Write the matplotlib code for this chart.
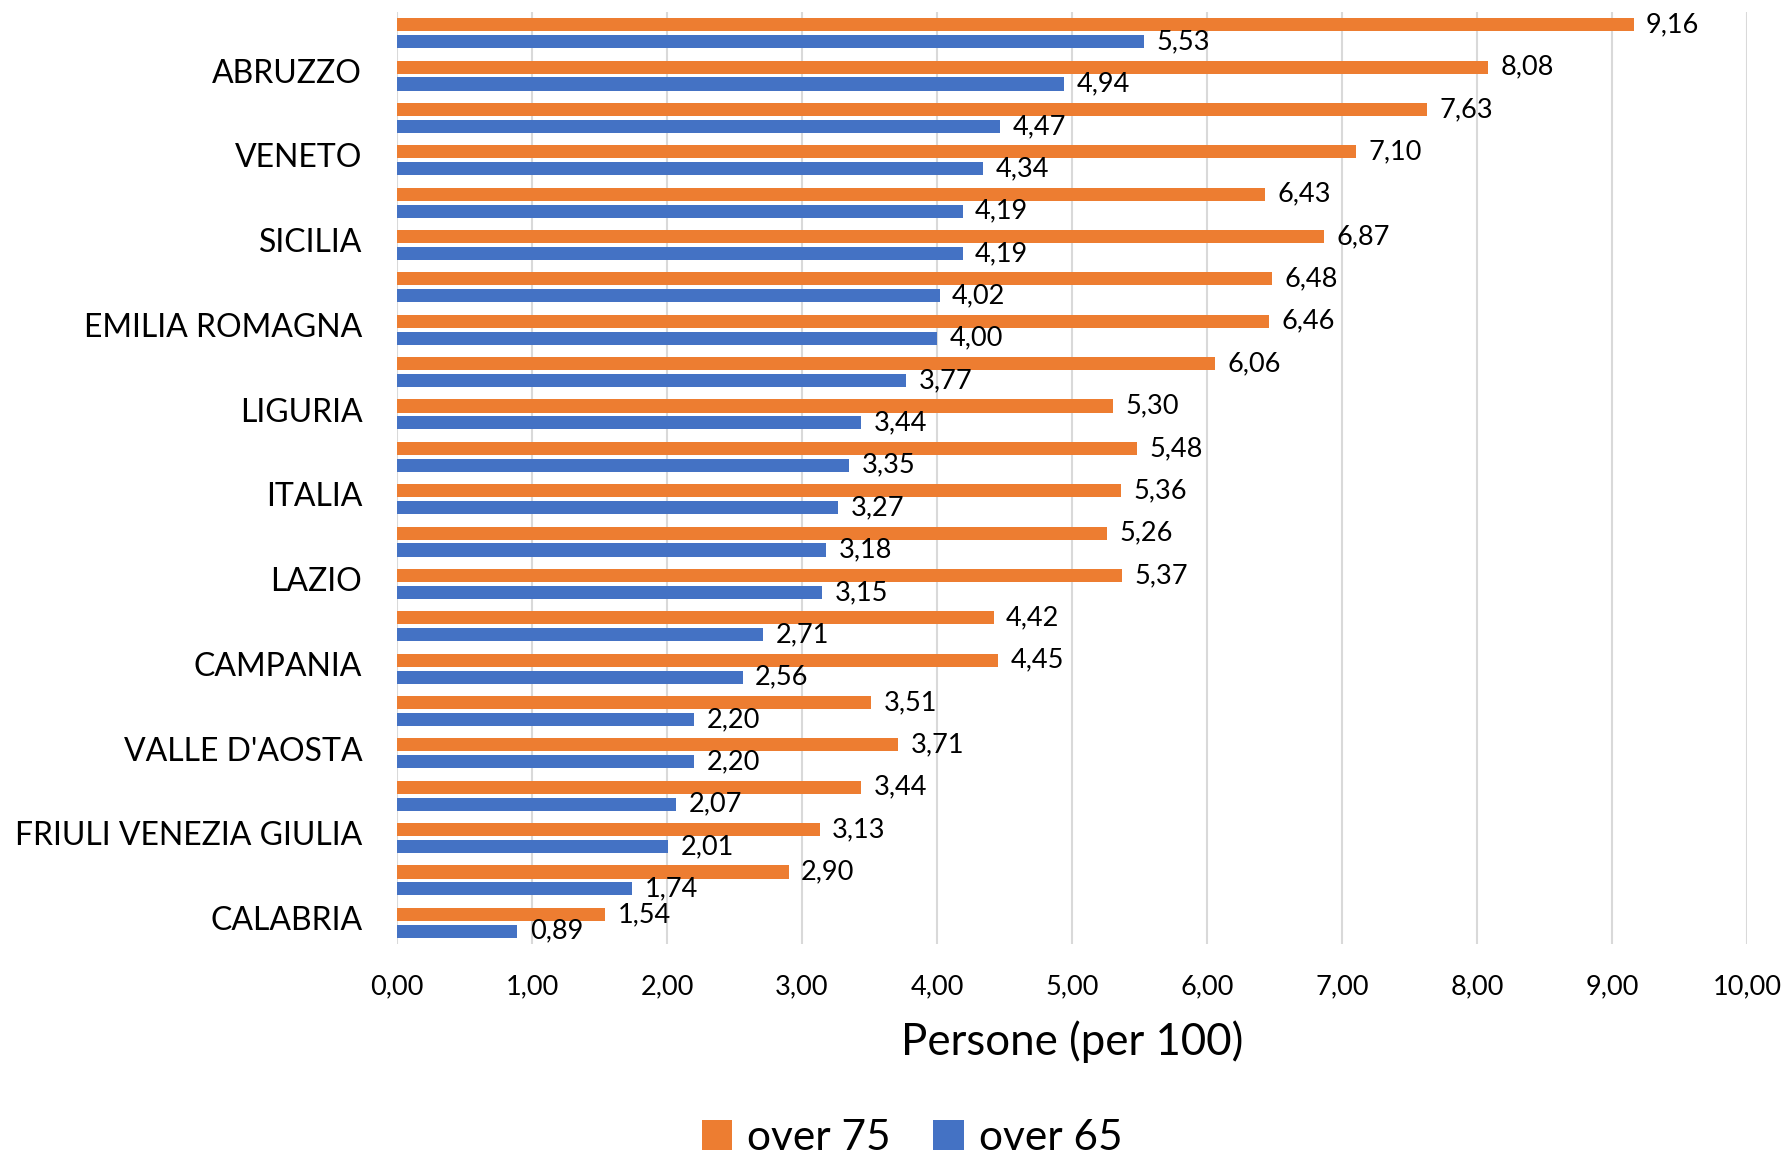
import matplotlib
matplotlib.use("Agg")
import matplotlib.pyplot as plt
import matplotlib.transforms as mtransforms
import numpy as np

# dati (persone per 100), dall'alto verso il basso
regioni = ["", "ABRUZZO", "", "VENETO", "", "SICILIA", "", "EMILIA ROMAGNA",
           "", "LIGURIA", "", "ITALIA", "", "LAZIO", "", "CAMPANIA",
           "", "VALLE D'AOSTA", "", "FRIULI VENEZIA GIULIA", "", "CALABRIA"]
over75 = [9.16, 8.08, 7.63, 7.10, 6.43, 6.87, 6.48, 6.46, 6.06, 5.30, 5.48,
          5.36, 5.26, 5.37, 4.42, 4.45, 3.51, 3.71, 3.44, 3.13, 2.90, 1.54]
over65 = [5.53, 4.94, 4.47, 4.34, 4.19, 4.19, 4.02, 4.00, 3.77, 3.44, 3.35,
          3.27, 3.18, 3.15, 2.71, 2.56, 2.20, 2.20, 2.07, 2.01, 1.74, 0.89]
xticks = [0, 1, 2, 3, 4, 5, 6, 7, 8, 9, 10]

plt.rcParams['font.family'] = ['Lato', 'DejaVu Sans']

ORANGE = '#ED7D31'
BLUE = '#4472C4'

fig = plt.figure(figsize=(17.85, 11.57), dpi=100)
ax = fig.add_axes([397/1785, 1 - 944/1157, 1350/1785, 932/1157])

y = np.arange(len(over75))
h = 0.31
b1 = ax.barh(y - 0.2, over75, height=h, color=ORANGE, label='over 75', zorder=3)
b2 = ax.barh(y + 0.2, over65, height=h, color=BLUE, label='over 65', zorder=3)

fmt = lambda v: f"{v:.2f}".replace('.', ',')
ax.bar_label(b1, labels=[fmt(v) for v in over75], padding=9, fontsize=19.5)
ax.bar_label(b2, labels=[fmt(v) for v in over65], padding=9, fontsize=19.5)

ax.set_ylim(len(over75) - 0.5, -0.5)
ax.set_xlim(0, 10)
ax.set_yticks(y)
ax.set_yticklabels(regioni, fontsize=23)
ax.set_xticks(xticks)
ax.set_xticklabels([fmt(v) for v in xticks], fontsize=19.5)
ax.tick_params(axis='both', length=0)
ax.tick_params(axis='y', pad=25)
ax.tick_params(axis='x', pad=22)

# etichette categorie leggermente piu' in alto
shift = mtransforms.ScaledTranslation(0, 3.5/72, fig.dpi_scale_trans)
for lab in ax.get_yticklabels():
    lab.set_transform(lab.get_transform() + shift)

ax.grid(axis='x', color='#D9D9D9', linewidth=1.5, zorder=0)
for s in ax.spines.values():
    s.set_visible(False)

ax.set_xlabel("Persone (per 100)", fontsize=31.5)
ax.xaxis.set_label_coords(0.5, -0.105)
ax.xaxis.label.set_va('center')

fig.legend(handles=[b1, b2], loc='center', bbox_to_anchor=(912/1785, 1 - 1138/1157),
           ncol=2, frameon=False, fontsize=30.5, handlelength=0.72, handleheight=0.72,
           handletextpad=0.35, columnspacing=1.0)

fig.savefig('out.png', dpi=100)
